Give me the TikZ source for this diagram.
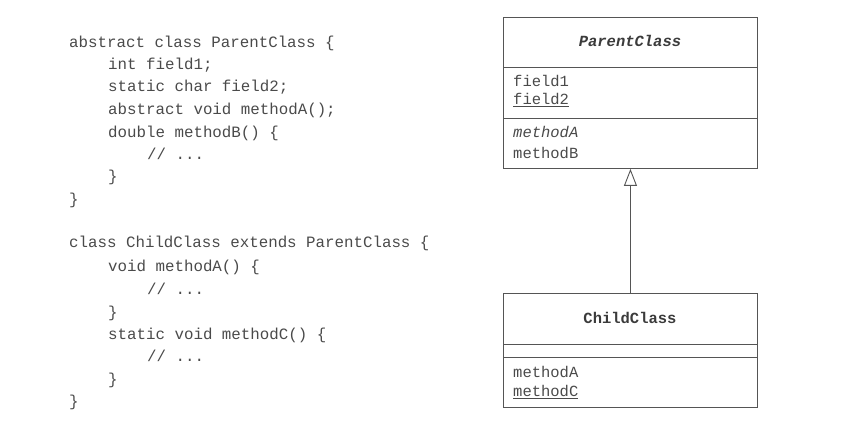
\documentclass[tikz,border=0pt]{standalone}
\usepackage{fontspec}
\setmonofont{Liberation Mono}
\usetikzlibrary{arrows.meta}
\definecolor{ink}{HTML}{4A4A4A}
\definecolor{rule}{HTML}{555555}
\begin{document}
\begin{tikzpicture}[x=1pt,y=-1pt,
  code/.style={anchor=base west,inner sep=0pt,text=ink,font=\ttfamily\fontsize{15.8pt}{18pt}\selectfont},
  cname/.style={anchor=base,inner sep=0pt,text=ink!80!black,font=\ttfamily\bfseries\fontsize{15.5pt}{18pt}\selectfont},
  member/.style={anchor=base west,inner sep=0pt,text=ink,font=\ttfamily\fontsize{15.5pt}{18pt}\selectfont},
  comp/.style={draw=rule,line width=0.9pt,minimum width=254pt,inner sep=0pt,anchor=north west},
  inherit/.style={draw=rule,line width=0.9pt,-{Triangle[open,length=17pt,width=13pt]}}
]
\useasboundingbox (0,0) rectangle (847,435);
% code
\node[code] (c1) at (69,48) {abstract class ParentClass \{};
\node[code] (c2) at (108,70) {int field1;};
\node[code] (c3) at (108,92) {static char field2;};
\node[code] (c4) at (108,115) {abstract void methodA();};
\node[code] (c5) at (108,138) {double methodB() \{};
\node[code] (c6) at (147,160) {// ...};
\node[code] (c7) at (108,182) {\}};
\node[code] (c8) at (69,205) {\}};
\node[code] (c9) at (69,248) {class ChildClass extends ParentClass \{};
\node[code] (c10) at (108,272) {void methodA() \{};
\node[code] (c11) at (147,295) {// ...};
\node[code] (c12) at (108,318) {\}};
\node[code] (c13) at (108,340) {static void methodC() \{};
\node[code] (c14) at (147,362) {// ...};
\node[code] (c15) at (108,385) {\}};
\node[code] (c16) at (69,407) {\}};
% parent class box
\node[comp,minimum height=50pt] (pname) at (503,17) {};
\node[comp,minimum height=51pt] (pfields) at (503,67) {};
\node[comp,minimum height=50pt] (pmeth) at (503,118) {};
\node[cname] (pt) at (630,47) {\itshape ParentClass};
\node[member] (pf1) at (513,87) {field1};
\node[member] (pf2) at (513,105) {\underline{field2}};
\node[member] (pm1) at (513,138) {\itshape methodA};
\node[member] (pm2) at (513,159) {methodB};
% child class box
\node[comp,minimum height=51pt] (cname) at (503,293) {};
\node[comp,minimum height=13pt] (cfields) at (503,344) {};
\node[comp,minimum height=50pt] (cmeth) at (503,357) {};
\node[cname] (ct) at (630,324) {ChildClass};
\node[member] (cm1) at (513,378) {methodA};
\node[member] (cm2) at (513,397) {\underline{methodC}};
% inheritance
\draw[inherit] (cname.north) -- (pmeth.south);
\end{tikzpicture}
\end{document}
